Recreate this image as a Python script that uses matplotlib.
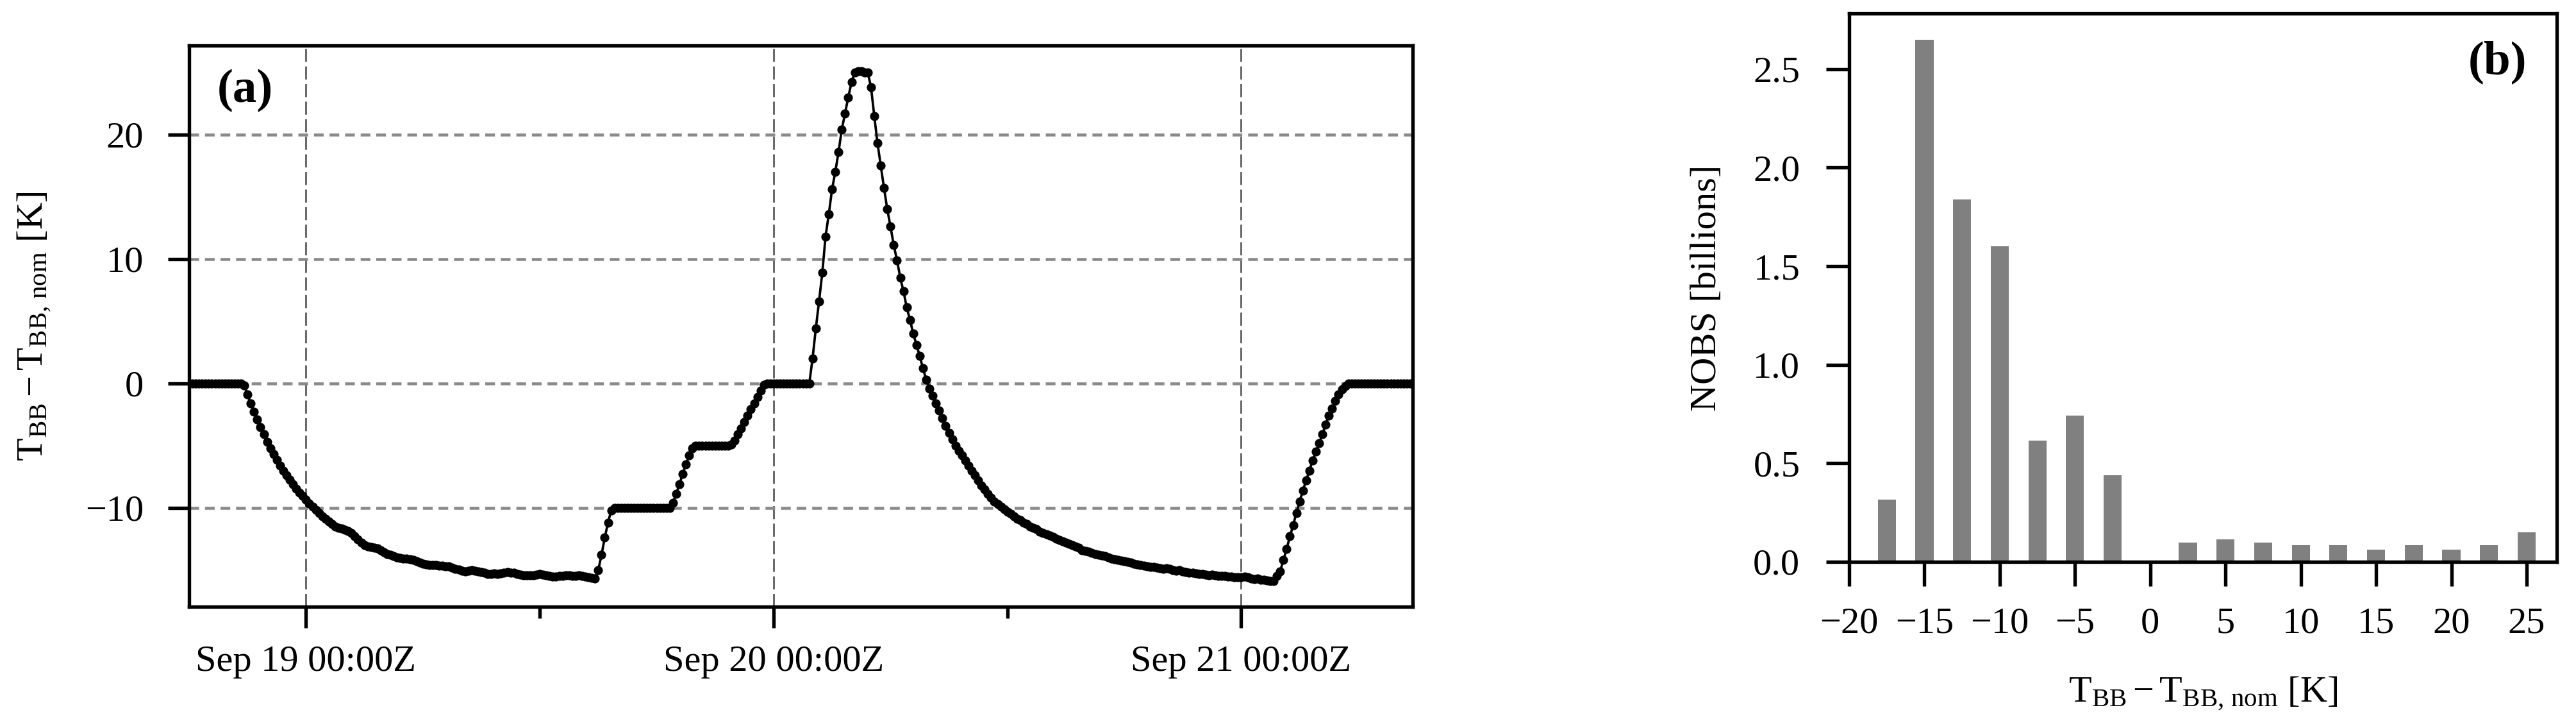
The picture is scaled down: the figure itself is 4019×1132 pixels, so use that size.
import numpy as np
import pandas as pd
import matplotlib
matplotlib.use("Agg")
import matplotlib.pyplot as plt
import matplotlib.dates as mdates

plt.rcParams['font.family'] = 'serif'
plt.rcParams['font.serif'] = ['Liberation Serif', 'DejaVu Serif']
plt.rcParams['mathtext.fontset'] = 'stix'

# (a) blackbody temperature offset, one reading every 10 min from Sep 18 18:00Z
t_start = '2019-09-18 18:00'
t_end = '2019-09-21 08:48'
tbb_offset = [
    0, 0, 0, 0, 0, 0,
    0, 0, 0, 0, 0, 0,
    0, 0, 0, 0, 0, -0.15,
    -0.9, -1.6, -2.3, -2.9, -3.5, -4.1,
    -4.7, -5.2, -5.7, -6.15, -6.6, -7.0,
    -7.4, -7.75, -8.1, -8.45, -8.75, -9.05,
    -9.35, -9.64, -9.91, -10.18, -10.43, -10.67,
    -10.9, -11.1, -11.3, -11.5, -11.6, -11.65,
    -11.75, -11.85, -12.0, -12.3, -12.55, -12.8,
    -13.0, -13.1, -13.15, -13.2, -13.25, -13.4,
    -13.55, -13.7, -13.8, -13.9, -14.0, -14.05,
    -14.1, -14.1, -14.15, -14.2, -14.3, -14.4,
    -14.5, -14.55, -14.6, -14.6, -14.6, -14.65,
    -14.65, -14.7, -14.7, -14.8, -14.9, -14.95,
    -15.05, -15.1, -15.05, -15.0, -15.05, -15.1,
    -15.15, -15.2, -15.3, -15.3, -15.25, -15.3,
    -15.25, -15.2, -15.15, -15.2, -15.2, -15.3,
    -15.35, -15.45, -15.45, -15.4, -15.4, -15.35,
    -15.3, -15.35, -15.4, -15.5, -15.55, -15.55,
    -15.5, -15.5, -15.45, -15.45, -15.5, -15.5,
    -15.45, -15.5, -15.55, -15.6, -15.65, -15.7,
    -15.0, -13.8, -12.4, -11.2, -10.2, -10.0,
    -10, -10, -10, -10, -10, -10,
    -10, -10, -10, -10, -10, -10,
    -10, -10, -10, -10, -10, -9.6,
    -8.9, -8.1, -7.3, -6.5, -5.8, -5.2,
    -5, -5, -5, -5, -5, -5,
    -5, -5, -5, -5, -5, -4.9,
    -4.6, -4.1, -3.6, -3.1, -2.6, -2.1,
    -1.6, -1.1, -0.6, -0.1, 0, 0,
    0, 0, 0, 0, 0, 0,
    0, 0, 0, 0, 0, 0,
    2.0, 4.4, 6.6, 8.9, 11.8, 13.6,
    15.6, 17.0, 18.6, 20.4, 21.7, 23.0,
    24.2, 25.0, 25.1, 25.1, 25.0, 25.0,
    23.8, 21.5, 19.3, 17.5, 15.7, 14.0,
    12.6, 11.1, 9.9, 8.5, 7.4, 6.1,
    5.1, 4.0, 3.1, 2.2, 1.2, 0.3,
    -0.4, -1.0, -1.6, -2.2, -2.8, -3.4,
    -4.0, -4.5, -5.0, -5.4, -5.8, -6.2,
    -6.6, -7.0, -7.4, -7.8, -8.2, -8.5,
    -8.9, -9.2, -9.5, -9.7, -9.9, -10.1,
    -10.3, -10.5, -10.7, -10.9, -11.0, -11.2,
    -11.3, -11.5, -11.6, -11.7, -11.9, -12.0,
    -12.1, -12.25, -12.35, -12.5, -12.6, -12.7,
    -12.8, -12.9, -13.0, -13.1, -13.2, -13.4,
    -13.45, -13.5, -13.6, -13.7, -13.8, -13.85,
    -13.9, -14.0, -14.1, -14.15, -14.2, -14.25,
    -14.3, -14.35, -14.4, -14.5, -14.55, -14.6,
    -14.65, -14.7, -14.75, -14.75, -14.8, -14.85,
    -14.9, -14.85, -14.9, -15.0, -15.05, -15.0,
    -15.1, -15.15, -15.2, -15.2, -15.25, -15.3,
    -15.3, -15.35, -15.4, -15.35, -15.4, -15.5,
    -15.5, -15.5, -15.55, -15.55, -15.6, -15.6,
    -15.6, -15.55, -15.6, -15.7, -15.75, -15.7,
    -15.8, -15.8, -15.85, -15.9, -15.9, -15.5,
    -15.1, -14.2, -13.3, -12.3, -11.4, -10.4,
    -9.5, -8.6, -7.8, -7.0, -6.2, -5.5,
    -4.8, -4.1, -3.3, -2.6, -2.0, -1.4,
    -0.9, -0.5, -0.2, 0, 0, 0,
    0, 0, 0, 0, 0, 0,
    0, 0, 0, 0, 0, 0,
    0, 0, 0, 0, 0, 0,
]
times = pd.date_range(t_start, periods=len(tbb_offset), freq='10min')

# (b) histogram of observation counts
bin_centers = [-17.5, -15, -12.5, -10, -7.5, -5, -2.5,
               2.5, 5, 7.5, 10, 12.5, 15, 17.5, 20, 22.5, 25]
nobs_billions = [0.315, 2.65, 1.84, 1.60, 0.614, 0.743, 0.438,
                 0.097, 0.114, 0.097, 0.084, 0.084, 0.061, 0.084, 0.061, 0.084, 0.149]

label_temp = r'$\mathregular{T_{BB} - T_{BB,\,nom}}$ [K]'

W, H = 4019, 1132
fig = plt.figure(figsize=(W / 300, H / 300), dpi=300)

# panel (a)
ax1 = fig.add_axes([295 / W, 1 - 946 / H, (2204 - 295) / W, (946 - 71) / H])
ax1.plot(times, tbb_offset, '-o', color='black', lw=0.9, ms=2.4, zorder=3)
ax1.set_xlim(pd.Timestamp(t_start), pd.Timestamp(t_end))
ax1.set_yticks([-10, 0, 10, 20])
ax1.xaxis.set_major_locator(mdates.DayLocator())
ax1.xaxis.set_minor_locator(mdates.HourLocator(byhour=[12]))
ax1.xaxis.set_major_formatter(mdates.DateFormatter('%b %d %H:%MZ'))
ax1.yaxis.grid(True, linestyle=(0, (3.3, 2.0)), color='#8a8a8a', lw=1.1)
ax1.xaxis.grid(True, which='major', linestyle=(0, (7, 2.4)), color='#666666', lw=0.7)
ax1.set_axisbelow(True)
ax1.tick_params(axis='both', which='major', direction='out', length=8, width=1.3, labelsize=14)
ax1.tick_params(axis='x', which='major', pad=6.5)
ax1.tick_params(axis='y', which='major', pad=9)
ax1.tick_params(axis='x', which='minor', direction='out', length=4.4, width=1.3)
ax1.set_ylabel(label_temp, fontsize=14, labelpad=12)
ax1.text(0.0456, 0.92, '(a)', transform=ax1.transAxes, fontsize=18,
         fontweight='bold', ha='center', va='center')
for s in ax1.spines.values():
    s.set_linewidth(1.3)

# panel (b)
ax2 = fig.add_axes([2885 / W, 1 - 876 / H, (3989 - 2885) / W, (876 - 21) / H])
ax2.bar(bin_centers, nobs_billions, width=1.2, color='#808080')
ax2.set_xlim(-20, 27)
ax2.set_xticks(np.arange(-20, 30, 5))
ax2.set_yticks([0.0, 0.5, 1.0, 1.5, 2.0, 2.5])
ax2.yaxis.set_major_formatter(matplotlib.ticker.FormatStrFormatter('%.1f'))
ax2.tick_params(axis='both', direction='out', width=1.3, labelsize=14)
ax2.tick_params(axis='x', length=9, pad=8)
ax2.tick_params(axis='y', length=8.6, pad=9.8)
ax2.set_xlabel(label_temp, fontsize=14, labelpad=13)
ax2.set_ylabel('NOBS [billions]', fontsize=14, labelpad=11)
ax2.text(0.916, 0.911, '(b)', transform=ax2.transAxes, fontsize=18,
         fontweight='bold', ha='center', va='center')
for s in ax2.spines.values():
    s.set_linewidth(1.3)

fig.savefig('out.png', dpi=300)
